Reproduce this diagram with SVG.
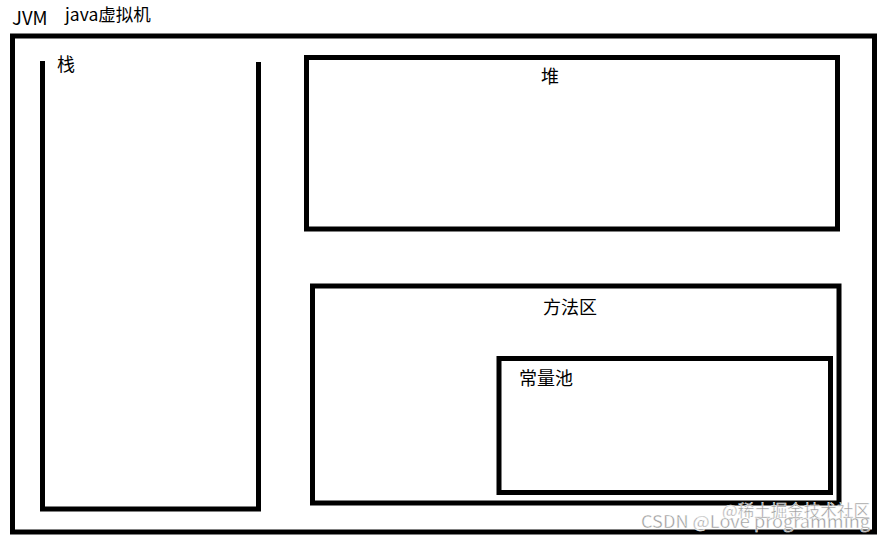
<svg xmlns="http://www.w3.org/2000/svg" width="887" height="542" viewBox="0 0 887 542">
<style>
.box{fill:none;stroke:#000;stroke-width:5}
.t{font-family:"Noto Sans CJK SC","Microsoft YaHei",sans-serif;font-size:18px;fill:#000}
.wm{font-family:"Noto Sans CJK SC",sans-serif;font-size:17px;fill:#9a9a9a;stroke:#fff;stroke-width:0.4}
</style>
<rect width="887" height="542" fill="#fff"/>
<text class="t" x="12" y="25" style="font-size:18.5px">JVM</text>
<text class="t" x="65" y="21" style="font-size:17.5px">java虚拟机</text>
<g id="jvm"><rect class="box" x="12.5" y="36" width="862" height="496"/></g>
<g id="stack">
<path class="box" d="M42.5,61 V509 H258.5 V62"/>
<text class="t" x="57" y="71">栈</text>
</g>
<g id="heap">
<rect class="box" x="306.5" y="57.5" width="531" height="171.5"/>
<text class="t" x="541" y="83">堆</text>
</g>
<g id="method">
<rect class="box" x="312.5" y="286" width="526.5" height="217"/>
<text class="t" x="543" y="314">方法区</text>
</g>
<g id="pool">
<rect class="box" x="499" y="358.5" width="331.5" height="134"/>
<text class="t" x="519" y="385">常量池</text>
</g>
<g id="connectors"></g>
<text class="wm" x="722" y="517" textLength="148" lengthAdjust="spacingAndGlyphs">@稀土掘金技术社区</text>
<text class="wm" x="641" y="528" textLength="229" lengthAdjust="spacingAndGlyphs">CSDN @Love programming</text>
</svg>
